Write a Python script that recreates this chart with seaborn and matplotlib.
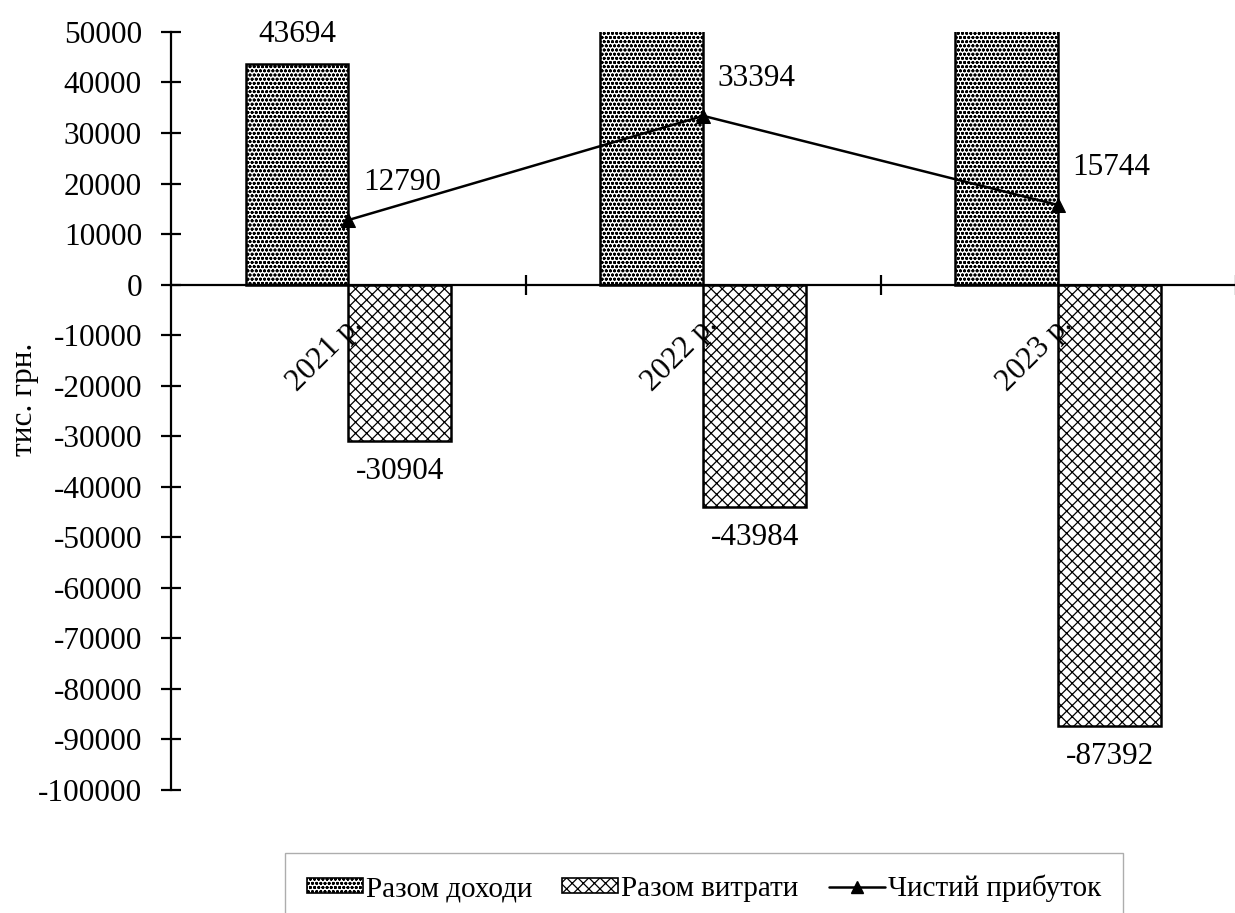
import matplotlib
matplotlib.use("Agg")
import matplotlib.pyplot as plt
import numpy as np
import pandas as pd
import seaborn as sb
from matplotlib.patches import Patch
from matplotlib.lines import Line2D
from matplotlib.transforms import ScaledTranslation

years = ["2021 р.", "2022 р.", "2023 р."]
income = [43694, 77378, 103136]
expenses = [-30904, -43984, -87392]
profit = [12790, 33394, 15744]
series_names = ["Разом доходи", "Разом витрати", "Чистий прибуток"]

sb.set_style("white")
plt.rcParams['font.family'] = ['Liberation Serif', 'DejaVu Serif']
plt.rcParams['hatch.linewidth'] = 0.9
plt.rcParams['axes.unicode_minus'] = False
plt.rcParams['text.color'] = 'black'
plt.rcParams['xtick.color'] = 'black'
plt.rcParams['ytick.color'] = 'black'
plt.rcParams['axes.labelcolor'] = 'black'

FS = 22.5
FS_LEG = 21

df = pd.DataFrame({
    'year': years * 2,
    'value': income + expenses,
    'series': [series_names[0]] * 3 + [series_names[1]] * 3,
})

fig = plt.figure(figsize=(12.35, 9.13), dpi=100)
ax = fig.add_axes([0.1385, 0.1347, 0.862, 0.8303])

sb.barplot(data=df, x='year', y='value', hue='series', width=0.58,
           palette=['white', 'white'], edgecolor='black', linewidth=1.8,
           saturation=1, legend=False, ax=ax)

hatches = {series_names[0]: 'oooo', series_names[1]: 'xxx'}
for cont, name in zip(ax.containers, series_names[:2]):
    for bar in cont:
        bar.set_hatch(hatches[name])

sb.lineplot(x=np.arange(len(years)), y=profit, ax=ax, color='black',
            marker='^', markersize=10, linewidth=1.8, markeredgecolor='black')

ax.set_xlim(-0.5, 2.5)
ax.set_ylim(-100000, 50000)
ax.set_yticks(np.arange(-100000, 50001, 10000))
ax.tick_params(axis='y', left=True, labelsize=FS, direction='inout', length=14, width=1.6, pad=14)

# x axis through zero
ax.spines['bottom'].set_position(('data', 0))
ax.spines['bottom'].set_linewidth(1.6)
ax.spines['left'].set_linewidth(1.6)
ax.spines['bottom'].set_color('black')
ax.spines['left'].set_color('black')
ax.spines['top'].set_visible(False)
ax.spines['right'].set_visible(False)
ax.set_xticks(range(len(years)))
ax.set_xticklabels(years, rotation=45, ha='right', va='center', rotation_mode='anchor', fontsize=FS)
ax.tick_params(axis='x', which='major', length=0, pad=26)
shift = ScaledTranslation(7 / 72, 0, fig.dpi_scale_trans)
for lbl in ax.get_xticklabels():
    lbl.set_transform(lbl.get_transform() + shift)
ax.set_xticks([0.5, 1.5, 2.5], minor=True)
ax.tick_params(axis='x', which='minor', bottom=True, direction='inout', length=14, width=1.6)
ax.xaxis.set_zorder(10)
ax.yaxis.set_zorder(10)
ax.set_xlabel('')
ax.set_ylabel('тис. грн.', fontsize=FS, labelpad=4)
ax.yaxis.set_label_coords(-0.124, 0.515)

# value labels
ax.text(-0.145, income[0] + 3000, f"{income[0]}", ha='center', va='bottom', fontsize=FS)
for i, v in enumerate(expenses):
    ax.text(i + 0.145, v - 6000, f"{v}", ha='center', va='center', fontsize=FS)
for i, v in enumerate(profit):
    ax.text(i + 0.15, v + 7400, f"{v}", ha='center', va='center', fontsize=FS)

handles = [
    Patch(facecolor='white', edgecolor='black', hatch='oooo', linewidth=1.2),
    Patch(facecolor='white', edgecolor='black', hatch='xxx', linewidth=1.2),
    Line2D([0], [0], color='black', marker='^', markersize=9, linewidth=1.8),
]
leg = fig.legend(handles, series_names, loc='upper center', bbox_to_anchor=(0.57, 0.066),
                 ncol=3, fontsize=FS_LEG, frameon=True, fancybox=False, edgecolor='#999999',
                 handlelength=1.92, handleheight=0.42, handletextpad=0.1, columnspacing=1.03,
                 borderpad=0.75, borderaxespad=0)
leg.get_frame().set_linewidth(1.0)

fig.savefig('out.png', dpi=100)
